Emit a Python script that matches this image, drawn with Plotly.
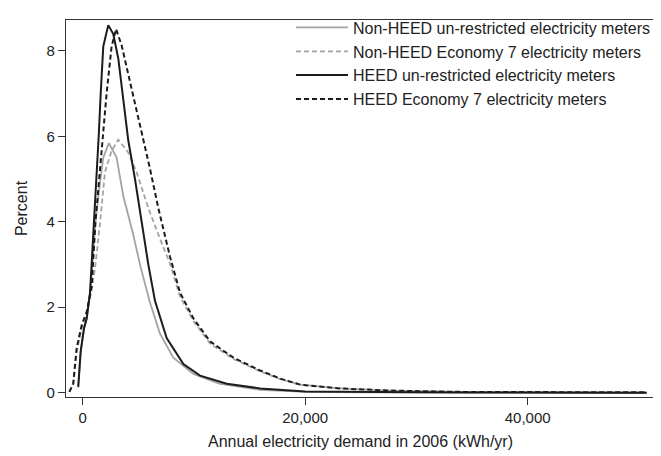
import plotly.graph_objects as go

# ---- data ----
series_names = [
    "Non-HEED un-restricted electricity meters",
    "Non-HEED Economy 7 electricity meters",
    "HEED un-restricted electricity meters",
    "HEED Economy 7 electricity meters",
]

nonheed_unr_x = [-400, -180, 120, 360, 660, 870, 1150, 1550, 1850, 2350, 3050, 3650, 4500,
                 5200, 6000, 6950, 8150, 9950, 12350, 15950, 20000, 25000, 30000, 35000,
                 40000, 45000, 50700]
nonheed_unr_y = [0.12, 0.95, 1.5, 1.72, 2.3, 3.0, 4.0, 4.9, 5.5, 5.84, 5.5, 4.6, 3.75,
                 2.95, 2.15, 1.38, 0.82, 0.44, 0.21, 0.07, 0.02, 0.01, 0.005, 0.0,
                 0.0, 0.0, 0.0]

nonheed_e7_x = [-1200, -850, -540, -90, 360, 810, 1150, 1550, 2000, 2600, 3200, 4100, 4850,
                5900, 6950, 7850, 8750, 9950, 11450, 13550, 15950, 17750, 19550, 23150,
                27650, 33950, 40000, 45000, 50700]
nonheed_e7_y = [0.02, 0.2, 0.95, 1.5, 1.85, 2.4, 3.0, 3.94, 5.16, 5.66, 5.92, 5.62, 5.16,
                4.32, 3.6, 3.02, 2.25, 1.68, 1.15, 0.79, 0.5, 0.32, 0.19, 0.1,
                0.05, 0.02, 0.01, 0.005, 0.0]

heed_unr_x = [-400, -180, 120, 360, 660, 870, 960, 1440, 1620, 1850, 2300, 2750, 3200, 4100,
              4700, 5300, 5900, 6500, 7550, 9050, 10550, 12950, 15950, 20000, 25000, 30000,
              35000, 40000, 45000, 50700]
heed_unr_y = [0.14, 0.97, 1.51, 1.74, 2.34, 3.26, 3.9, 6.0, 7.0, 8.1, 8.6, 8.39, 7.82, 5.9,
              5.0, 4.0, 3.0, 2.15, 1.28, 0.67, 0.4, 0.21, 0.1, 0.03, 0.015, 0.01,
              0.005, 0.005, 0.0, 0.0]

heed_e7_x = [-1200, -850, -540, -90, 360, 810, 1150, 1700, 2150, 2600, 3000, 3500, 4250, 5300,
             6050, 6800, 7850, 8750, 9950, 11450, 13550, 15950, 17750, 19550, 23150, 27650,
             33950, 40000, 45000, 50700]
heed_e7_y = [0.02, 0.21, 1.05, 1.58, 1.89, 2.5, 4.0, 5.7, 7.0, 8.1, 8.51, 8.13, 7.29, 6.07,
             5.24, 4.32, 3.18, 2.34, 1.74, 1.2, 0.82, 0.52, 0.33, 0.19, 0.1, 0.05,
             0.02, 0.015, 0.01, 0.01]

x_ticks = [0, 20000, 40000]
y_ticks = [0, 2, 4, 6, 8]

GRAY = "#a3a3a3"
BLACK = "#1c1c1c"
TXT = "#222222"
FONT = "Liberation Sans, Arial, sans-serif"

fig = go.Figure()
fig.add_trace(go.Scatter(x=nonheed_unr_x, y=nonheed_unr_y, mode="lines", name=series_names[0],
                         line=dict(color=GRAY, width=1.8)))
fig.add_trace(go.Scatter(x=nonheed_e7_x, y=nonheed_e7_y, mode="lines", name=series_names[1],
                         line=dict(color=GRAY, width=1.8, dash="5px,3px")))
fig.add_trace(go.Scatter(x=heed_unr_x, y=heed_unr_y, mode="lines", name=series_names[2],
                         line=dict(color=BLACK, width=2)))
fig.add_trace(go.Scatter(x=heed_e7_x, y=heed_e7_y, mode="lines", name=series_names[3],
                         line=dict(color=BLACK, width=2, dash="5px,3px")))

axis_common = dict(showline=True, linecolor="#333333", linewidth=1.3, mirror=True,
                   ticks="outside", ticklen=7, tickwidth=1, tickcolor="#333333",
                   showgrid=False, zeroline=False,
                   tickfont=dict(family=FONT, size=15, color=TXT))

# the page body adds an 8px offset; the figure is sized so it fits the 661x456 window
fig.update_layout(
    width=653, height=448,
    margin=dict(l=58, r=6, t=3, b=59),
    paper_bgcolor="white", plot_bgcolor="white",
    font=dict(family=FONT, size=15, color=TXT),
    showlegend=True,
    legend=dict(x=1, y=1.025, xanchor="right", yanchor="top", bgcolor="rgba(0,0,0,0)",
                font=dict(family=FONT, size=16, color=TXT), itemwidth=52,
                traceorder="normal", tracegroupgap=0),
    xaxis=dict(range=[-1500, 51450], tickvals=x_ticks, tickformat=",",
               title=dict(text="Annual electricity demand in 2006 (kWh/yr)",
                          font=dict(family=FONT, size=16, color=TXT), standoff=10),
               **axis_common),
    yaxis=dict(range=[-0.1, 8.72], tickvals=y_ticks,
               title=dict(text="Percent", font=dict(family=FONT, size=16, color=TXT),
                          standoff=14),
               **axis_common),
)

fig.write_html("out.html")
